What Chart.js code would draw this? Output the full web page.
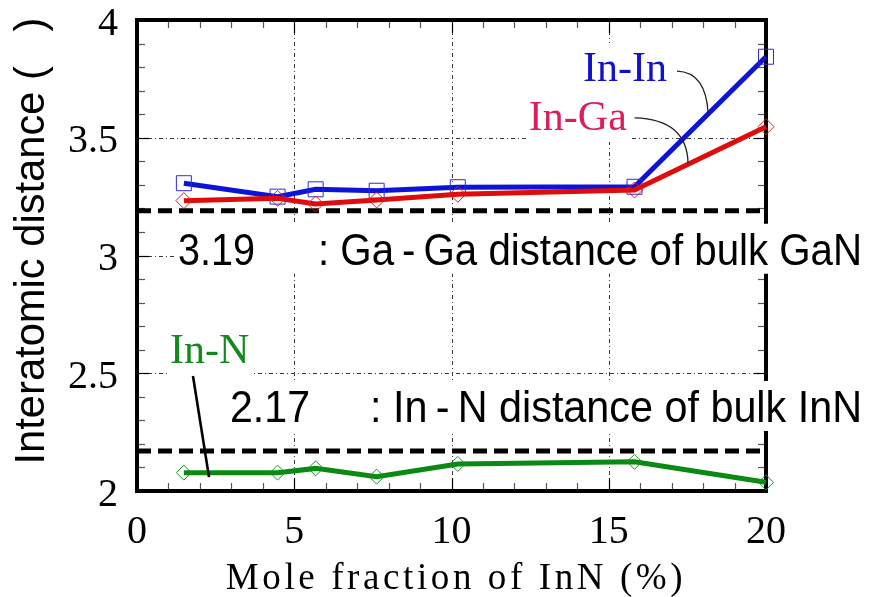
<!DOCTYPE html>
<html>
<head>
<meta charset="utf-8">
<script src="https://cdn.jsdelivr.net/npm/chart.js@4.4.1/dist/chart.umd.min.js"></script>
<style>
  html, body { margin: 0; padding: 0; background: #fff; }
  #wrap { width: 870px; height: 597px; position: relative; }
</style>
</head>
<body>
<div id="wrap"><canvas id="c"></canvas></div>
<script>
// ---- data ----
const moleFraction = [1.49, 4.47, 5.68, 7.62, 10.2, 15.82, 20];
const inInDist = [3.307, 3.250, 3.281, 3.275, 3.290, 3.292, 3.844];
const inGaDist = [3.233, 3.243, 3.219, 3.236, 3.260, 3.278, 3.547];
const inNDist  = [2.078, 2.078, 2.096, 2.061, 2.115, 2.124, 2.037];
const xTickValues = [0, 5, 10, 15, 20];
const xTickLabels = ['0', '5', '10', '15', '20'];
const yTickValues = [2, 2.5, 3, 3.5, 4];
const yTickLabels = ['2', '2.5', '3', '3.5', '4'];
const gaGaBulk = 3.19;
const inNBulk = 2.17;
const xTitle = 'Mole fraction of InN (%)';
const yTitle = 'Interatomic distance (   )';

const pts = ys => moleFraction.map((x, i) => ({x, y: ys[i]}));

const SERIF = '"Liberation Serif", "Times New Roman", serif';
const SANS = '"Liberation Sans", Arial, sans-serif';

function line(ctx, x1, y1, x2, y2) { ctx.beginPath(); ctx.moveTo(x1, y1); ctx.lineTo(x2, y2); ctx.stroke(); }

const deco = {
  id: 'deco',
  beforeDatasetsDraw(chart) {
    const {ctx, chartArea: a, scales: {x, y}} = chart;
    ctx.save();
    // dash-dot grid
    ctx.strokeStyle = '#3a3a3a'; ctx.lineWidth = 1; ctx.setLineDash([4, 3, 1, 3]);
    xTickValues.slice(1, -1).forEach(v => { const p = Math.round(x.getPixelForValue(v)) + 0.5; line(ctx, p, a.top, p, a.bottom); });
    yTickValues.slice(1, -1).forEach(v => { const p = Math.round(y.getPixelForValue(v)) + 0.5; line(ctx, a.left, p, a.right, p); });
    ctx.setLineDash([]);
    // minor / major ticks on all four sides
    ctx.lineWidth = 1.2;
    for (let v = 1; v < 20; v++) {
      const p = Math.round(x.getPixelForValue(v)) + 0.5;
      const major = v % 5 === 0;
      ctx.strokeStyle = major ? '#000' : '#555';
      const L = major ? 13 : 8;
      line(ctx, p, a.top, p, a.top + L);
      line(ctx, p, a.bottom, p, a.bottom - L);
    }
    for (let k = 1; k < 20; k++) {
      const v = 2 + k * 0.1;
      const p = Math.round(y.getPixelForValue(v)) + 0.5;
      const major = k % 5 === 0;
      ctx.strokeStyle = major ? '#000' : '#555';
      const L = major ? 12 : 8;
      line(ctx, a.left, p, a.left + L, p);
      line(ctx, a.right, p, a.right - L, p);
    }
    // frame
    ctx.strokeStyle = '#000'; ctx.lineWidth = 4;
    ctx.strokeRect(a.left, a.top, a.right - a.left, a.bottom - a.top);
    // bulk reference dashed lines
    ctx.lineWidth = 5; ctx.setLineDash([14, 7]);
    [gaGaBulk, inNBulk].forEach(v => { const p = y.getPixelForValue(v); line(ctx, a.left, p, a.right + 1, p); });
    ctx.setLineDash([]);
    // tick labels
    ctx.fillStyle = '#000';
    ctx.font = '40px ' + SERIF;
    ctx.textBaseline = 'middle';
    ctx.textAlign = 'right';
    yTickValues.forEach((v, i) => ctx.fillText(yTickLabels[i], a.left - 19, y.getPixelForValue(v) + 4));
    ctx.textAlign = 'center';
    xTickValues.forEach((v, i) => ctx.fillText(xTickLabels[i], x.getPixelForValue(v), a.bottom + 41));
    ctx.restore();
  },
  afterDatasetsDraw(chart) {
    const {ctx, chartArea: a, scales: {x, y}} = chart;
    ctx.save();
    // bulk annotations with white background boxes
    const ann = [
      {v: gaGaBulk, num: '3.19', txt: ': Ga\u2009-\u2009Ga distance of bulk GaN', x0: 178, w0: 77, x1: 318, x2: 862, dy: 54},
      {v: inNBulk, num: '2.17', txt: ': In\u2009-\u2009N distance of bulk InN', x0: 230, w0: 80, x1: 370, x2: 862, dy: -29}
    ];
    ctx.font = '44px ' + SANS;
    ann.forEach(o => {
      const base = y.getPixelForValue(o.v) + o.dy;
      ctx.fillStyle = '#fff';
      ctx.fillRect(o.x0 - 1, base - 41, o.x2 + 4 - o.x0, 50);
      ctx.fillStyle = '#000'; ctx.textAlign = 'left'; ctx.textBaseline = 'alphabetic';
      ctx.fillText(o.num, o.x0, base, o.w0);
      ctx.fillText(o.txt, o.x1, base, o.x2 - o.x1);
    });
    // series labels
    ctx.font = '42px ' + SERIF;
    const labs = [
      {t: 'In-In', c: '#1212c8', lx: 14.18, ly: 3.741, curve: [[17.17, 3.783], [18.09, 3.779], [18.16, 3.603]]},
      {t: 'In-Ga', c: '#dc1f5a', lx: 12.46, ly: 3.533, curve: [[15.82, 3.584], [17.49, 3.578], [17.52, 3.392]]},
      {t: 'In-N', c: '#14891e', lx: 1.05, ly: 2.544, seg: [[1.78, 2.488], [2.29, 2.059]]}
    ];
    labs.forEach(l => {
      const px = x.getPixelForValue(l.lx), py = y.getPixelForValue(l.ly);
      const w = ctx.measureText(l.t).width;
      ctx.fillStyle = '#fff';
      ctx.fillRect(px - 3, py - 38, w + 6, 50);
      ctx.fillStyle = l.c; ctx.textAlign = 'left'; ctx.textBaseline = 'alphabetic';
      ctx.fillText(l.t, px, py);
    });
    ctx.strokeStyle = '#222'; ctx.lineWidth = 1.3;
    labs.forEach(l => {
      if (l.curve) {
        const P = l.curve.map(p => [x.getPixelForValue(p[0]), y.getPixelForValue(p[1])]);
        ctx.beginPath(); ctx.moveTo(P[0][0], P[0][1]);
        ctx.quadraticCurveTo(P[1][0], P[1][1], P[2][0], P[2][1]); ctx.stroke();
      }
      if (l.seg) {
        ctx.lineWidth = 2.6; ctx.strokeStyle = '#000';
        const P = l.seg.map(p => [x.getPixelForValue(p[0]), y.getPixelForValue(p[1])]);
        line(ctx, P[0][0], P[0][1], P[1][0], P[1][1]);
      }
    });
    // axis titles
    ctx.fillStyle = '#000';
    ctx.font = '43px ' + SANS;
    ctx.save();
    ctx.translate(44, 241);
    ctx.rotate(-Math.PI / 2);
    ctx.textAlign = 'center'; ctx.textBaseline = 'alphabetic';
    ctx.fillText(yTitle, 0, 0, 447);
    ctx.restore();
    ctx.font = '37px ' + SERIF;
    ctx.letterSpacing = '3.6px';
    ctx.textAlign = 'center';
    ctx.textBaseline = 'alphabetic';
    ctx.fillText(xTitle, 456, 589);
    ctx.restore();
  }
};

new Chart(document.getElementById('c'), {
  type: 'line',
  data: {
    datasets: [
      {label: 'In-Ga', data: pts(inGaDist), borderColor: '#e00c0c', borderWidth: 5,
       pointStyle: 'rectRot', pointRadius: 8, pointBorderWidth: 1, pointBorderColor: '#e81818', pointBackgroundColor: 'rgba(0,0,0,0)', order: 1},
      {label: 'In-In', data: pts(inInDist), borderColor: '#0c14d6', borderWidth: 5,
       pointStyle: 'rect', pointRadius: 10.6, pointBorderWidth: 1, pointBorderColor: '#2a2ae0', pointBackgroundColor: 'rgba(0,0,0,0)', order: 2},
      {label: 'In-N', data: pts(inNDist), borderColor: '#0a8a12', borderWidth: 5,
       pointStyle: 'rectRot', pointRadius: 7.5, pointBorderWidth: 1, pointBorderColor: '#12941c', pointBackgroundColor: 'rgba(0,0,0,0)', order: 3}
    ]
  },
  options: {
    responsive: true, maintainAspectRatio: false, animation: false,
    layout: {padding: {top: 20, right: 104, left: 0, bottom: 0}},
    plugins: {legend: {display: false}, tooltip: {enabled: false}},
    elements: {line: {tension: 0}},
    clip: false,
    scales: {
      x: {
        type: 'linear', min: 0, max: 20,
        afterBuildTicks: s => { s.ticks = xTickValues.map(v => ({value: v})); },
        afterFit: s => { s.height = 106; s.paddingLeft = 0; s.paddingRight = 0; },
        grid: {display: false, drawTicks: false}, border: {display: false},
        ticks: {display: false}
      },
      y: {
        type: 'linear', min: 2, max: 4,
        afterBuildTicks: s => { s.ticks = yTickValues.map(v => ({value: v})); },
        afterFit: s => { s.width = 137; s.paddingTop = 0; s.paddingBottom = 0; },
        grid: {display: false, drawTicks: false}, border: {display: false},
        ticks: {display: false}
      }
    }
  },
  plugins: [deco]
});
</script>
</body>
</html>
